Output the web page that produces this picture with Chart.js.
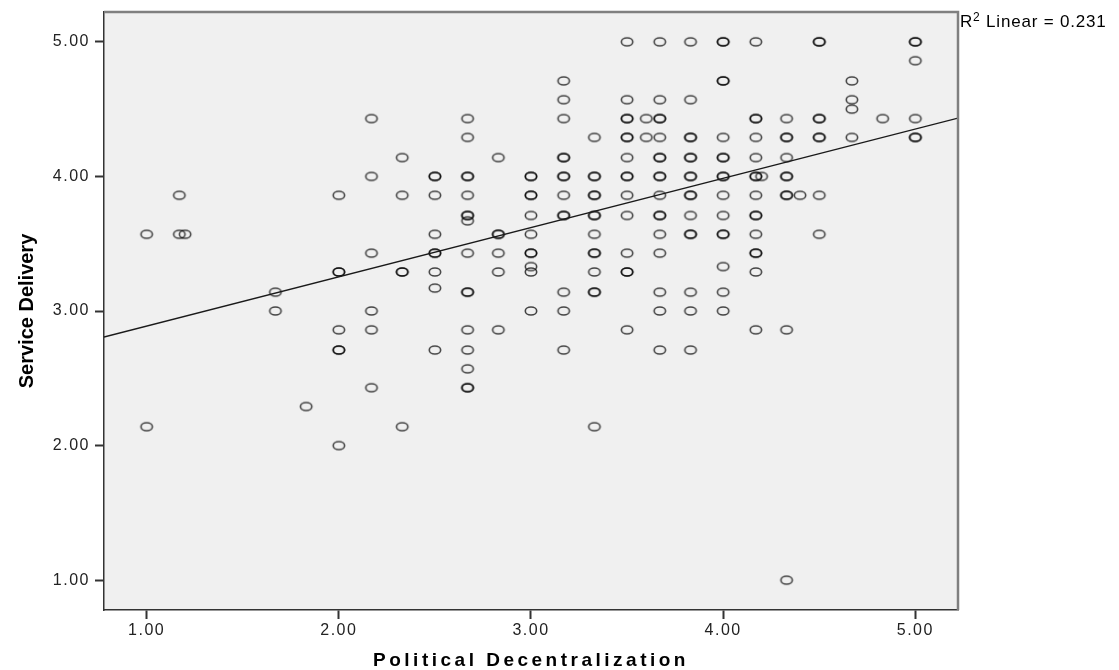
<!DOCTYPE html>
<html>
<head>
<meta charset="utf-8">
<script src="https://cdn.jsdelivr.net/npm/chart.js@4.4.1/dist/chart.umd.min.js"></script>
<style>
  html, body { margin: 0; padding: 0; background: #fff; }
  #wrap { width: 1119px; height: 670px; }
</style>
</head>
<body>
<div id="wrap"><canvas id="scatter" width="1119" height="670"></canvas></div>
<script>
var xTitle = "Political Decentralization";
var yTitle = "Service Delivery";
var tickValues = [1, 2, 3, 4, 5];
var axisMin = 0.778;
var axisMax = 5.222;

// x level of each column of circles
var xLevels = [1.00, 1.17, 1.20, 1.67, 1.83, 2.00, 2.17, 2.33, 2.50, 2.67, 2.83, 3.00, 3.17, 3.33,
  3.50, 3.60, 3.67, 3.83, 4.00, 4.17, 4.20, 4.33, 4.40, 4.50, 4.67, 4.83, 5.00];
// service delivery values in each column (repeats = overlapping cases)
var yLevels = [
  [3.57, 2.14],
  [3.86, 3.57],
  [3.57],
  [3.14, 3.00],
  [2.29],
  [3.86, 3.29, 3.29, 2.86, 2.71, 2.71, 2.00],
  [4.43, 4.00, 3.43, 3.00, 2.86, 2.43],
  [4.14, 3.86, 3.29, 3.29, 2.14],
  [4.00, 4.00, 3.86, 3.57, 3.43, 3.43, 3.29, 3.17, 2.71],
  [4.43, 4.29, 4.00, 4.00, 3.86, 3.71, 3.71, 3.67, 3.43, 3.14, 3.14, 2.86, 2.71, 2.57, 2.43, 2.43],
  [4.14, 3.57, 3.57, 3.43, 3.29, 2.86],
  [4.00, 4.00, 3.86, 3.86, 3.71, 3.57, 3.43, 3.43, 3.33, 3.29, 3.00],
  [4.71, 4.57, 4.43, 4.14, 4.14, 4.00, 4.00, 3.86, 3.71, 3.71, 3.14, 3.00, 2.71],
  [4.29, 4.00, 4.00, 3.86, 3.86, 3.71, 3.71, 3.57, 3.43, 3.43, 3.29, 3.14, 3.14, 2.14],
  [5.00, 4.57, 4.43, 4.43, 4.29, 4.29, 4.14, 4.00, 4.00, 3.86, 3.71, 3.43, 3.29, 3.29, 2.86],
  [4.43, 4.29],
  [5.00, 4.57, 4.43, 4.43, 4.29, 4.14, 4.14, 4.00, 4.00, 3.86, 3.71, 3.71, 3.57, 3.43, 3.14, 3.00, 2.71],
  [5.00, 4.57, 4.29, 4.29, 4.14, 4.14, 4.00, 4.00, 3.86, 3.86, 3.71, 3.57, 3.57, 3.14, 3.00, 2.71],
  [5.00, 5.00, 4.71, 4.71, 4.29, 4.14, 4.14, 4.00, 4.00, 3.86, 3.71, 3.57, 3.57, 3.33, 3.14, 3.00],
  [5.00, 4.43, 4.43, 4.29, 4.14, 4.00, 4.00, 3.86, 3.71, 3.71, 3.57, 3.43, 3.43, 3.29, 2.86],
  [4.00],
  [4.43, 4.29, 4.29, 4.14, 4.00, 4.00, 3.86, 3.86, 2.86, 1.00],
  [3.86],
  [5.00, 5.00, 4.43, 4.43, 4.29, 4.29, 3.86, 3.57],
  [4.71, 4.57, 4.50, 4.29],
  [4.43],
  [5.00, 5.00, 4.86, 4.43, 4.29, 4.29]
];

// linear fit as printed by SPSS
var fitIntercept = 2.522;
var fitSlope = 0.366;
var rSquared = 0.231;

var font = "'Liberation Sans', Arial, sans-serif";

var points = [];
xLevels.forEach(function (x, i) {
  yLevels[i].forEach(function (y) { points.push({ x: x, y: y }); });
});
var fitLine = [axisMin, axisMax].map(function (x) {
  return { x: x, y: fitIntercept + fitSlope * x };
});

// hollow marker, a little wider than tall like the export
var marker = document.createElement("canvas");
marker.width = 16;
marker.height = 12;
var mCtx = marker.getContext("2d");
mCtx.strokeStyle = "rgba(0,0,0,0.72)";
mCtx.lineWidth = 1.6;
mCtx.beginPath();
mCtx.ellipse(8, 6, 5.7, 4.0, 0, 0, Math.PI * 2);
mCtx.stroke();

function spaceText(scale, method, spacing) {
  if (scale["_sp_" + method]) return;
  var orig = scale[method];
  scale[method] = function () {
    var ctx = this.ctx;
    ctx.save();
    ctx.letterSpacing = spacing;
    orig.apply(this, arguments);
    ctx.restore();
  };
  scale["_sp_" + method] = true;
}

function noOverhang(s) {
  s.paddingTop = 0;
  s.paddingBottom = 0;
  s.paddingLeft = 0;
  s.paddingRight = 0;
}

var plotFrame = {
  id: "plotFrame",
  beforeDraw: function (chart) {
    var a = chart.chartArea;
    var ctx = chart.ctx;
    ctx.save();
    ctx.fillStyle = "#f0f0f0";
    ctx.fillRect(a.left, a.top, a.right - a.left, a.bottom - a.top);
    ctx.restore();
    spaceText(chart.scales.x, "drawTitle", "3.5px");
    spaceText(chart.scales.x, "drawLabels", "1.5px");
    spaceText(chart.scales.y, "drawLabels", "1.5px");
  },
  afterDraw: function (chart) {
    var a = chart.chartArea;
    var ctx = chart.ctx;
    ctx.save();
    ctx.strokeStyle = "#808080";
    ctx.lineWidth = 2.5;
    ctx.beginPath();
    ctx.moveTo(a.left, a.top);
    ctx.lineTo(a.right, a.top);
    ctx.lineTo(a.right, a.bottom);
    ctx.stroke();
    // R² label, superscript drawn a bit larger than the ² glyph
    ctx.fillStyle = "#000";
    ctx.textBaseline = "alphabetic";
    ctx.letterSpacing = "0.8px";
    var x = a.right + 2;
    ctx.font = "17px " + font;
    ctx.fillText("R", x, 27);
    x += ctx.measureText("R").width;
    ctx.font = "12px " + font;
    ctx.fillText("2", x, 21);
    x += ctx.measureText("2").width;
    ctx.font = "17px " + font;
    ctx.fillText(" Linear = " + rSquared.toFixed(3), x, 27);
    ctx.restore();
  }
};

var sc = document.getElementById("scatter");
var scCtx = sc.getContext("2d");
var chart = new Chart(scCtx, {
  type: "scatter",
  data: {
    datasets: [
      {
        label: "Fit",
        data: fitLine,
        showLine: true,
        borderColor: "#1a1a1a",
        borderWidth: 1.3,
        pointRadius: 0,
        fill: false
      },
      {
        label: "Cases",
        data: points,
        pointStyle: marker,
        pointRadius: 5
      }
    ]
  },
  options: {
    responsive: false,
    animation: false,
    layout: { padding: { left: 0, top: 12, right: 161, bottom: 0 } },
    plugins: {
      legend: { display: false },
      tooltip: { enabled: false }
    },
    scales: {
      x: {
        type: "linear",
        min: axisMin,
        max: axisMax,
        afterFit: function (s) { s.height = 60; noOverhang(s); },
        afterBuildTicks: function (s) {
          s.ticks = tickValues.map(function (v) { return { value: v }; });
        },
        ticks: {
          callback: function (v) { return v.toFixed(2); },
          color: "#222",
          font: { family: font, size: 16 },
          padding: 2,
          maxRotation: 0
        },
        grid: {
          display: true,
          drawOnChartArea: false,
          drawTicks: true,
          tickLength: 9,
          color: "#333",
          tickColor: "#333",
          tickWidth: 2
        },
        border: { display: true, color: "#333", width: 1.5 },
        title: {
          display: true,
          text: xTitle,
          color: "#000",
          font: { family: font, size: 19, weight: "bold", lineHeight: 1 },
          padding: { top: 0, bottom: 0 }
        }
      },
      y: {
        type: "linear",
        min: axisMin,
        max: axisMax,
        afterFit: function (s) { s.width = 104; noOverhang(s); },
        afterBuildTicks: function (s) {
          s.ticks = tickValues.map(function (v) { return { value: v }; });
        },
        ticks: {
          callback: function (v) { return v.toFixed(2); },
          color: "#222",
          font: { family: font, size: 16 },
          padding: 5
        },
        grid: {
          display: true,
          drawOnChartArea: false,
          drawTicks: true,
          tickLength: 9,
          color: "#333",
          tickColor: "#333",
          tickWidth: 2
        },
        border: { display: true, color: "#333", width: 1.5 },
        title: {
          display: true,
          text: yTitle,
          color: "#000",
          font: { family: font, size: 20, weight: "bold", lineHeight: 1 },
          padding: { top: 17.5, bottom: 0 }
        }
      }
    }
  },
  plugins: [plotFrame]
});
</script>
</body>
</html>
